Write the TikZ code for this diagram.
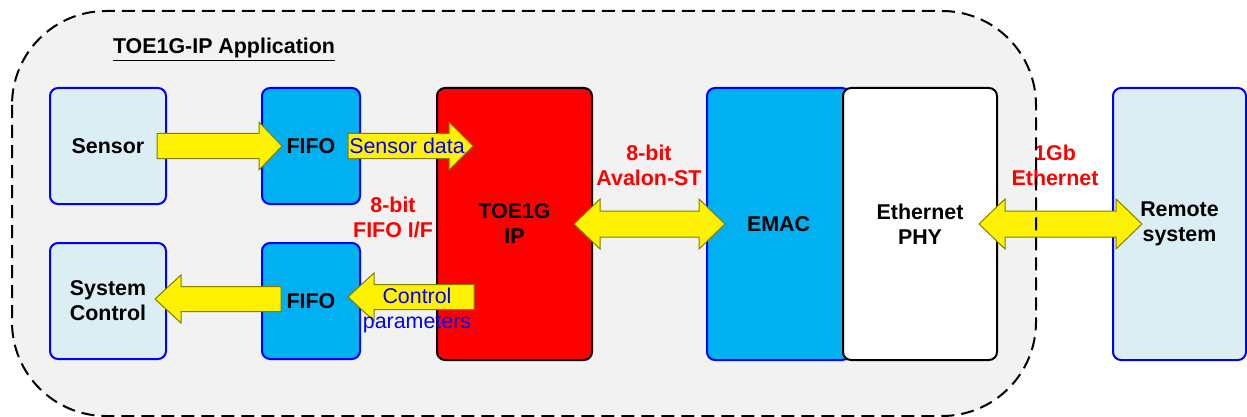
\documentclass[tikz,border=0pt]{standalone}
\usepackage{fontspec}
\setmainfont{Liberation Sans}
\usetikzlibrary{calc}

\definecolor{boxblue}{HTML}{00B0F0}
\definecolor{paleblue}{HTML}{DAEEF3}
\definecolor{appgray}{HTML}{F2F2F2}
\definecolor{arrowedge}{HTML}{7F7F00}
\newcommand{\diagfont}{\fontsize{10.7}{12.5}\selectfont}

\tikzset{
    unit/.style={rounded corners=4pt, line width=1pt, align=center, inner sep=0pt, font=\diagfont\bfseries},
    ext/.style={unit, draw=blue, fill=paleblue, minimum width=58pt, minimum height=58pt},
    fifo/.style={unit, draw=blue, fill=boxblue, minimum width=49pt, minimum height=58pt},
    core/.style={unit, minimum width=#1, minimum height=136pt},
    flow/.style={draw=arrowedge, fill=yellow, line width=0.5pt, line join=miter},
    tag/.style={align=center, inner sep=0pt, text=red, font=\diagfont\bfseries},
    sig/.style={align=center, inner sep=0pt, text=blue, font=\diagfont},
    app/.style={rounded corners=47pt}
}

% tail, tip, signed head length
\newcommand{\flowarrow}[3]{%
    \draw[flow] ($(#1)+(0,-12.5)$) -- ($(#2)+(#3,-12.5)$) -- ($(#2)+(#3,-24)$) -- (#2)
        -- ($(#2)+(#3,24)$) -- ($(#2)+(#3,12.5)$) -- ($(#1)+(0,12.5)$) -- cycle;}
% left tip, right tip
\newcommand{\dflowarrow}[2]{%
    \draw[flow] (#1) -- ($(#1)+(26,-25)$) -- ($(#1)+(26,-13)$) -- ($(#2)+(-26,-13)$)
        -- ($(#2)+(-26,-25)$) -- (#2) -- ($(#2)+(-26,25)$) -- ($(#2)+(-26,13)$)
        -- ($(#1)+(26,13)$) -- ($(#1)+(26,25)$) -- cycle;}

\begin{document}
\begin{tikzpicture}[x=0.5pt, y=-0.5pt]
    \useasboundingbox (0,0) rectangle (1247,417);
    \fill[appgray, app] (12,11) rectangle (1036,416);

    \node[unit, anchor=center] (title) at (224,50) {\underline{TOE1G-IP Application}};

    \node[ext] (sensor) at (108,146) {Sensor};
    \node[ext] (sysctl) at (108,301) {System\\Control};
    \node[fifo] (fifoA) at (311,146) {FIFO};
    \node[fifo] (fifoB) at (311,301) {FIFO};
    \node[core=77.5pt, draw=black, fill=red] (toe) at (514.5,224) {TOE1G\\IP};
    \node[core=71.5pt, draw=blue, fill=boxblue, text width=68pt] (emac) at (778.5,224) {EMAC\hspace*{7pt}};
    \node[core=77pt, draw=black, fill=white] (phy) at (920,224) {Ethernet\\PHY};
    \node[core=66.5pt, draw=blue, fill=paleblue] (remote) at (1179.5,224) {Remote\\system};

    \coordinate (a1) at ($(sensor.east)+(-10,0)$);
    \coordinate (a2) at ($(fifoA.west)+(21,0)$);
    \coordinate (b1) at ($(fifoA.east)+(-13,0)$);
    \coordinate (b2) at ($(toe.west |- fifoA.east)+(37,0)$);
    \coordinate (c1) at ($(toe.west |- fifoB.east)+(38,-4)$);
    \coordinate (c2) at ($(fifoB.east)+(-13,-4)$);
    \coordinate (d1) at ($(fifoB.west)+(20,-2)$);
    \coordinate (d2) at ($(sysctl.east)+(-12,-2)$);

    \flowarrow{a1}{a2}{-23}
    \flowarrow{b1}{b2}{-24}
    \flowarrow{c1}{c2}{26}
    \flowarrow{d1}{d2}{26}
    \dflowarrow{$(toe.east)+(-19,0)$}{$(emac.west)+(19,0)$}
    \dflowarrow{$(phy.east)+(-19,0)$}{$(remote.west)+(30,0)$}

    \node[sig] (sdata) at (407,146) {Sensor data};
    \node[sig] (cparam) at (417,310) {Control\\parameters};
    \node[tag] (fifoif) at (393,217) {8-bit\\FIFO I/F};
    \node[tag] (avst) at (649,165) {8-bit\\Avalon-ST};
    \node[tag] (gbe) at (1055,165) {1Gb\\Ethernet};

    \draw[app, line width=1pt, dash pattern=on 6.5pt off 3.5pt] (12,11) rectangle (1036,416);
\end{tikzpicture}
\end{document}
